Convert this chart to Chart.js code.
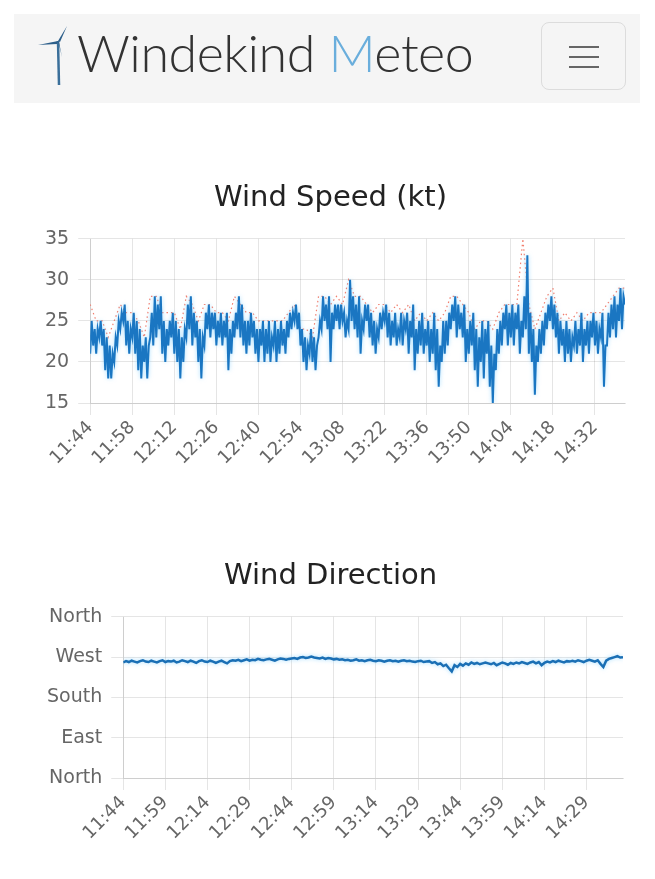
<!DOCTYPE html>
<html>
<head>
<meta charset="utf-8">
<title>Windekind Meteo</title>
<script src="https://cdn.jsdelivr.net/npm/chart.js@4.4.1/dist/chart.umd.min.js"></script>
<style>
  body { margin: 0; background: #fff; width: 655px; height: 879px; position: relative; overflow: hidden; font-family: "DejaVu Sans", Arial, sans-serif; }
  .navbar { position: absolute; left: 14px; top: 14px; width: 626px; height: 89px; background: #f5f5f5; }
  .brand { position: absolute; left: 22px; top: -2px; height: 80px; display: flex; align-items: center; }
  .brand svg { margin-right: 3px; margin-top: 6px; }
  .brand span { font-family: Lato, "Open Sans", sans-serif; font-weight: 300; font-size: 52px; color: #333; letter-spacing: -0.5px; }
  .brand .m { color: #6aaedc; }
  .toggler { position: absolute; left: 527px; top: 8px; width: 85px; height: 68px; border: 1px solid #dcdcdc; border-radius: 8px; box-sizing: border-box; }
  .toggler i { position: absolute; left: 27px; width: 30px; height: 2px; background: #666; }
  .box { position: absolute; }
</style>
</head>
<body>
<div class="navbar">
  <div class="brand">
    <svg width="38" height="64" viewBox="0 0 38 64">
      <line x1="22" y1="18" x2="23" y2="62" stroke="#3a6f9a" stroke-width="2.5"/>
      <path d="M22 18 L31 3 L24 19 Z" fill="#2d5f8a"/>
      <path d="M22 18 L2 22 L21 21 Z" fill="#2d5f8a"/>
      <path d="M22 18 L26 34 L23 19 Z" fill="#2d5f8a"/>
    </svg>
    <span>Windekind <span class="m">M</span>eteo</span>
  </div>
  <div class="toggler"><i style="top:23px"></i><i style="top:33px"></i><i style="top:43px"></i></div>
</div>

<div class="box" style="left:27px;top:178px;width:609px;height:293px"><canvas id="speedChart"></canvas></div>
<div class="box" style="left:36px;top:556px;width:600px;height:290px"><canvas id="dirChart"></canvas></div>

<script>
// Wind speed (kt), two samples per minute from 11:44
const speedValues = [
  21,25, 22,24, 21,24, 23,25, 22,24, 19,23, 18,22, 18,21, 20,23, 22,25,
  24,26, 25,27, 22,25, 21,24, 23,26, 21,25, 19,24, 18,22, 20,23, 18,22,
  23,26, 22,28, 23,27, 24,28, 21,25, 20,24, 22,25, 23,26, 21,25, 20,24,
  18,23, 20,24, 23,27, 24,28, 22,26, 23,25, 20,24, 18,23, 22,26, 24,27,
  23,26, 24,26, 22,25, 23,26, 22,25, 23,26, 19,24, 21,25, 23,26, 24,28,
  23,27, 22,25, 21,25, 22,26, 23,25, 21,24, 20,24, 22,25, 20,24, 21,25,
  20,23, 22,25, 20,24, 21,25, 22,24, 21,25, 23,26, 24,26, 25,27, 24,26,
  22,24, 20,23, 19,22, 21,24, 20,23, 19,22, 23,25, 24,28, 25,27, 24,28,
  20,26, 24,27, 25,27, 24,27, 25,26, 23,25, 24,30, 25,28, 24,27, 23,28,
  21,25, 24,27, 25,27, 23,26, 22,25, 21,24, 23,26, 24,26, 25,27, 23,26,
  22,25, 23,26, 22,24, 23,26, 22,25, 24,26, 21,25, 23,27, 19,24, 21,25,
  22,26, 21,24, 22,25, 20,24, 21,26, 19,24, 17,22, 20,25, 21,25, 22,26,
  24,27, 25,28, 23,27, 24,26, 23,27, 20,24, 21,25, 22,26, 19,24, 17,23,
  20,25, 18,24, 21,25, 17,22, 15,21, 19,24, 21,25, 22,26, 24,27, 22,26,
  23,27, 22,26, 24,27, 21,25, 23,28, 24,33, 21,26, 20,24, 16,22, 20,24,
  21,25, 22,26, 24,27, 25,28, 24,27, 23,26, 21,25, 22,24, 20,25, 21,24,
  20,23, 22,25, 21,24, 22,26, 20,24, 22,25, 21,25, 23,26, 22,25, 21,24,
  23,26, 17,22, 22,26, 23,27, 24,28, 23,27, 25,29, 24,28, 27,29
];
// Gusts (kt), one sample every 2 minutes
const gustValues = [
  27, 25, 25, 23, 25, 27, 26, 26, 25, 23,
  28, 28, 26, 26, 26, 24, 28, 27, 25, 27,
  27, 26, 26, 25, 28, 27, 26, 26, 25, 25,
  25, 25, 25, 26, 27, 24, 24, 23, 28, 28,
  27, 28, 27, 30, 28, 28, 27, 26, 27, 27,
  26, 27, 26, 27, 25, 26, 25, 26, 25, 26,
  28, 28, 27, 26, 24, 25, 25, 24, 26, 27,
  27, 27, 35, 27, 24, 26, 28, 29, 25, 26,
  25, 26, 25, 26, 26, 26, 27, 28, 29, 29
];
// Wind direction (degrees), one sample per minute from 11:44
const dirValues = [
  258, 261, 259, 262, 260, 258, 261, 263, 260, 259,
  262, 260, 258, 261, 263, 259, 261, 260, 262, 258,
  260, 263, 261, 259, 262, 260, 257, 261, 263, 260,
  259, 262, 260, 257, 260, 262, 259, 256, 261, 263,
  262, 264, 261, 263, 265, 262, 264, 263, 266, 264,
  263, 265, 266, 264, 262, 265, 267, 266, 264, 266,
  267, 268, 266, 269, 270, 268, 269, 271, 269, 268,
  267, 269, 266, 268, 267, 265, 266, 264, 265, 263,
  264, 262, 263, 265, 262, 263, 261, 263, 264, 262,
  261, 263, 262, 260, 262, 263, 261, 262, 260, 262,
  263, 261, 262, 260, 259, 261, 262, 259, 260, 261,
  257, 259, 254, 256, 250, 253, 245, 238, 252, 248,
  255, 251, 256, 253, 258, 255, 257, 254, 256, 258,
  256, 254, 257, 252, 255, 258, 256, 253, 257, 255,
  258, 256, 259, 257, 255, 258, 260, 256, 259, 252,
  257, 260, 258, 261, 259, 262, 260, 258, 261, 260,
  262, 260, 263, 261, 259, 262, 264, 262, 260, 263,
  255, 248, 262, 266, 268, 270, 272, 269, 270
];

const speedTickMinutes = [0, 14, 28, 42, 56, 70, 84, 98, 112, 126, 140, 154, 168];
const speedTickLabels = ['11:44', '11:58', '12:12', '12:26', '12:40', '12:54', '13:08', '13:22', '13:36', '13:50', '14:04', '14:18', '14:32'];
const dirTickMinutes = [0, 15, 30, 45, 60, 75, 90, 105, 120, 135, 150, 165];
const dirTickLabels = ['11:44', '11:59', '12:14', '12:29', '12:44', '12:59', '13:14', '13:29', '13:44', '13:59', '14:14', '14:29'];
const dirDegrees = [0, 90, 180, 270, 360];
const dirNames = ['North', 'East', 'South', 'West', 'North'];

Chart.defaults.font.family = '"DejaVu Sans", Arial, sans-serif';
Chart.defaults.color = '#666';
Chart.defaults.animation = false;

// leichter Schein um die Hauptlinie
const glow = {
  id: 'glow',
  beforeDatasetDraw(chart, args) {
    if (args.index !== 0) return;
    chart.ctx.save();
    chart.ctx.shadowColor = 'rgba(110,200,255,0.6)';
    chart.ctx.shadowBlur = 4;
  },
  afterDatasetDraw(chart, args) {
    if (args.index !== 0) return;
    chart.ctx.restore();
  }
};

function timeAxis(minutes, labels) {
  return {
    type: 'linear',
    min: 0,
    max: 178,
    afterBuildTicks: axis => { axis.ticks = minutes.map(v => ({ value: v })); },
    grid: { tickLength: 12 },
    ticks: {
      autoSkip: false,
      minRotation: 45,
      maxRotation: 45,
      padding: 2,
      font: { size: 18 },
      callback: value => labels[minutes.indexOf(value)]
    }
  };
}

function titleOpts(text) {
  return { display: true, text: text, color: '#222', font: { size: 29, weight: 'normal' }, padding: { top: 3, bottom: 23 } };
}

new Chart(document.getElementById('speedChart'), {
  type: 'line',
  data: {
    datasets: [{
      label: 'Wind Speed',
      data: speedValues.map((v, i) => ({ x: i * 0.5, y: v })),
      borderColor: '#1a76c2',
      borderWidth: 2,
      pointRadius: 0,
      tension: 0
    }, {
      label: 'Gusts',
      data: gustValues.map((v, i) => ({ x: i * 2, y: v })),
      borderColor: 'rgba(240,105,85,0.85)',
      borderWidth: 1.2,
      borderDash: [1.5, 3],
      pointRadius: 0,
      tension: 0
    }]
  },
  options: {
    responsive: true,
    maintainAspectRatio: false,
    layout: { padding: { left: 9, right: 11 } },
    plugins: { legend: { display: false }, title: titleOpts('Wind Speed (kt)'), tooltip: { enabled: false } },
    scales: {
      x: timeAxis(speedTickMinutes, speedTickLabels),
      y: { min: 15, max: 35, grid: { tickLength: 12 }, ticks: { stepSize: 5, padding: 9, font: { size: 19 } } }
    }
  },
  plugins: [glow]
});

new Chart(document.getElementById('dirChart'), {
  type: 'line',
  data: {
    datasets: [{
      label: 'Wind Direction',
      data: dirValues.map((v, i) => ({ x: i, y: v })),
      borderColor: '#1a6fb5',
      borderWidth: 2.5,
      pointRadius: 0,
      tension: 0
    }]
  },
  options: {
    responsive: true,
    maintainAspectRatio: false,
    layout: { padding: { left: 2, right: 13 } },
    plugins: { legend: { display: false }, title: titleOpts('Wind Direction'), tooltip: { enabled: false } },
    scales: {
      x: timeAxis(dirTickMinutes, dirTickLabels),
      y: {
        min: 0, max: 360,
        afterBuildTicks: axis => { axis.ticks = dirDegrees.map(v => ({ value: v })); },
        grid: { tickLength: 12 },
        ticks: { padding: 9, font: { size: 19 }, callback: value => dirNames[dirDegrees.indexOf(value)] }
      }
    }
  },
  plugins: [glow]
});
</script>
</body>
</html>
